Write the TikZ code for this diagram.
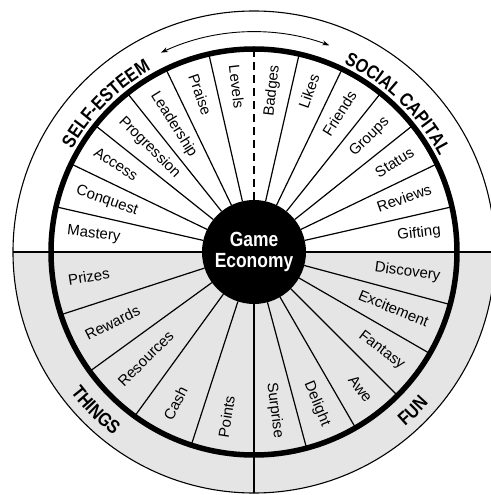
\documentclass[tikz,border=0pt]{standalone}
\usepackage{fontspec}
\setmainfont{Liberation Sans}
\newfontfamily\headfont[FakeStretch=0.85]{Liberation Sans}
\usetikzlibrary{arrows.meta,decorations.text}
\newcommand\hd{\fontsize{19}{19}\selectfont\headfont\bfseries}

\begin{document}
\begin{tikzpicture}[x=1pt, y=1pt,
  spoke/.style={line width=1.2pt},
  divider/.style={line width=2.2pt},
  lbl/.style={inner sep=0pt, text height=11pt, text depth=3pt, font=\fontsize{15}{15}\selectfont},
  lblL/.style={lbl, anchor=west, rotate=#1-180},
  lblR/.style={lbl, anchor=east, rotate=#1},
  arctext/.style={decorate, decoration={text along path, text align=center, text={#1}}},
  arr/.style={{Stealth[length=7pt, width=5pt]}-{Stealth[length=7pt, width=5pt]}, line width=0.9pt}]
\useasboundingbox (-254,-243) rectangle (236,252);
% lower half is shaded
\fill[black!10] (180:241) arc[start angle=180, end angle=360, radius=241] -- cycle;
\draw[line width=1.1pt] (0,0) circle[radius=241];
\draw[divider] (180:241) -- (0:241);
\draw[divider] (0,0) -- (270:241);
\draw[line width=5.5pt] (0,0) circle[radius=203];
\draw[spoke, dash pattern=on 8pt off 5pt] (90:52) -- (90:203);
\foreach \a in {1,...,6} {
  \draw[spoke] ({180-\a*90/7}:52) -- ({180-\a*90/7}:203);
  \draw[spoke] ({90-\a*90/7}:52) -- ({90-\a*90/7}:203);
}
\foreach \a in {1,...,4} \draw[spoke] ({180+\a*18}:52) -- ({180+\a*18}:203);
\foreach \a in {1,...,5} \draw[spoke] ({270+\a*15}:52) -- ({270+\a*15}:203);
% sector labels
\foreach \t [count=\i from 0] in {Mastery,Conquest,Access,Progression,Leadership,Praise,Levels} {
  \pgfmathsetmacro\a{180-(\i+0.5)*90/7}
  \node[lblL=\a] (se\i) at (\a:188) {\t};
}
\foreach \t [count=\i from 0] in {Badges,Likes,Friends,Groups,Status,Reviews,Gifting} {
  \pgfmathsetmacro\a{90-(\i+0.5)*90/7}
  \node[lblR=\a] (sc\i) at (\a:188) {\t};
}
\foreach \t [count=\i from 0] in {Prizes,Rewards,Resources,Cash,Points} {
  \pgfmathsetmacro\a{180+(\i+0.5)*18}
  \node[lblL=\a] (th\i) at (\a:188) {\t};
}
\foreach \t [count=\i from 0] in {Surprise,Delight,Awe,Fantasy,Excitement,Discovery} {
  \pgfmathsetmacro\a{270+(\i+0.5)*15}
  \node[lblR=\a] (fu\i) at (\a:188) {\t};
}
\node[circle, fill=black, minimum size=104pt, inner sep=0pt, text=white, align=center,
  font=\fontsize{20.5}{21}\selectfont\headfont\bfseries] (ge) at (0,0) {Game\\Economy};
% quadrant titles
\draw[arr] (115:220) arc[start angle=115, end angle=70, radius=220];
\path[arctext={|\hd|SELF-ESTEEM}] (165:209) arc[start angle=165, end angle=105, radius=209];
\path[arctext={|\hd|SOCIAL CAPITAL}] (80:209) arc[start angle=80, end angle=12, radius=209];
\path[arctext={|\hd|THINGS}] (200:231) arc[start angle=200, end angle=250, radius=231];
\path[arctext={|\hd|FUN}] (-70:231) arc[start angle=-70, end angle=-20, radius=231];
\end{tikzpicture}
\end{document}
